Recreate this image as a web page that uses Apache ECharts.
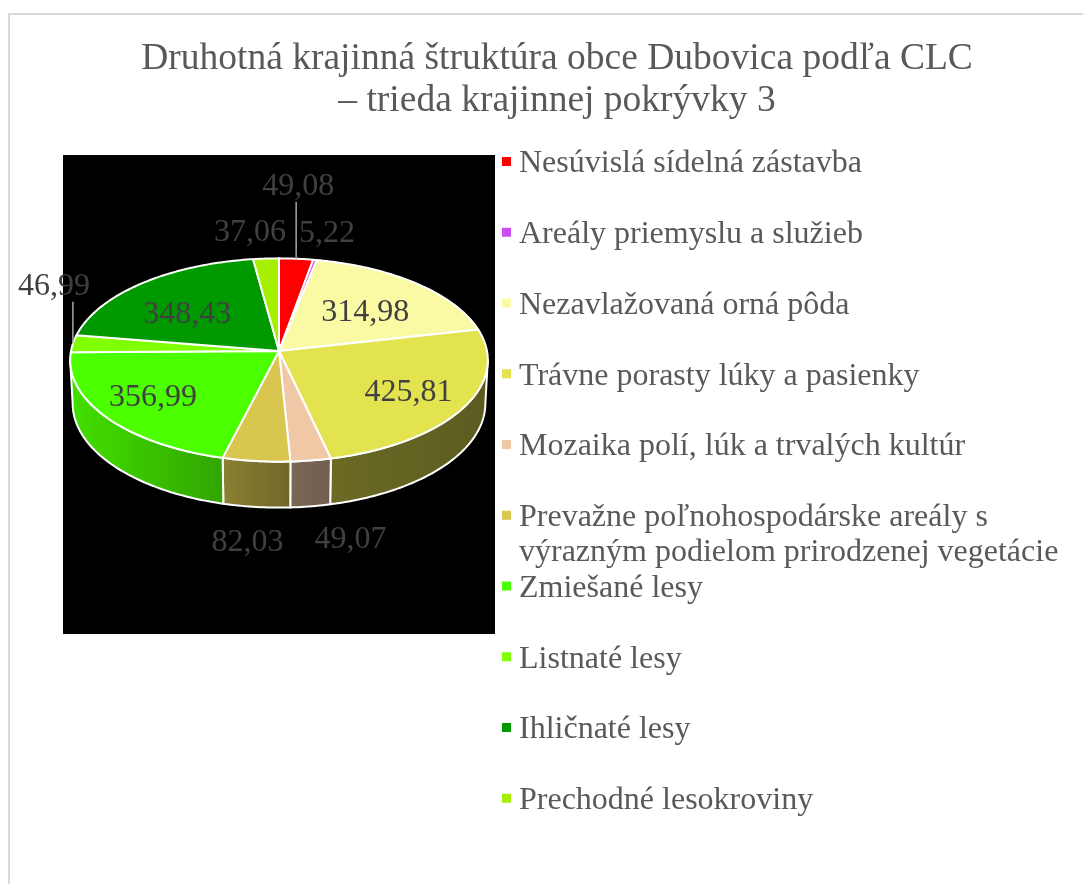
<!DOCTYPE html>
<html>
<head>
<meta charset="utf-8">
<script src="https://cdn.jsdelivr.net/npm/echarts@6/dist/echarts.min.js"></script>
<style>
  html, body { margin: 0; padding: 0; background: #ffffff; }
  #chart { width: 1083px; height: 884px; }
</style>
</head>
<body>
<div id="chart"></div>
<script>
// Land-cover classes (CLC level 3) and their areas
const categories = [
  'Nesúvislá sídelná zástavba',
  'Areály priemyslu a služieb',
  'Nezavlažovaná orná pôda',
  'Trávne porasty lúky a pasienky',
  'Mozaika polí, lúk a trvalých kultúr',
  'Prevažne poľnohospodárske areály s výrazným podielom prirodzenej vegetácie',
  'Zmiešané lesy',
  'Listnaté lesy',
  'Ihličnaté lesy',
  'Prechodné lesokroviny'
];
const values = [49.08, 5.22, 314.98, 425.81, 49.07, 82.03, 356.99, 46.99, 348.43, 37.06];
const colors = ['#FF0000', '#CC4CF0', '#FAFAA5', '#E3E34F', '#F0C8A6', '#D9C64F', '#4CFF00', '#80FF00', '#009A00', '#A5F000'];

// Label placement: 'in' = on the top face, 'edge' = above the rim, 'base' = below the front wall
const labelLayout = [
  { mode: 'edge', dx: 2, dy: -72, leader: true },
  { mode: 'edge', dx: 12, dy: -26 },
  { mode: 'in', r: 0.6, dx: 2, dy: 3 },
  { mode: 'in', r: 0.7, dx: 2, dy: 3 },
  { mode: 'base', dx: 40, dy: 33 },
  { mode: 'base', dx: -9, dy: 36 },
  { mode: 'in', r: 0.7, dx: -7, dy: 1 },
  { mode: 'edge', dx: -19, dy: -57, leader: true },
  { mode: 'in', r: 0.65, dx: -1, dy: 9 },
  { mode: 'edge', dx: -16, dy: -26 }
];

const FONT = '"Liberation Serif", "Times New Roman", serif';

// 3D pie geometry (perspective view of a tilted disc)
const CX = 279, CY = 351, R = 208, THICK = 50, DIST = 2053;
const TILT = 29 * Math.PI / 180;
const sinA = Math.sin(TILT), cosA = Math.cos(TILT);

function project(phiDeg, h, r) {
  const p = phiDeg * Math.PI / 180;
  const rr = (r === undefined) ? R : r;
  const X = rr * Math.sin(p), Z = rr * Math.cos(p);
  const up = Z * sinA + h * cosA;
  const depth = Z * cosA - h * sinA;
  const s = DIST / (DIST + depth);
  return [CX + X * s, CY - up * s];
}

// angle where the rim reaches its widest screen x (silhouette of the wall)
let PHI_S = 90, bestX = -1e9;
for (let a = 80; a <= 110; a += 0.1) {
  const x = project(a, -THICK / 2)[0];
  if (x > bestX) { bestX = x; PHI_S = a; }
}

const total = values.reduce((a, b) => a + b, 0);
const startAngles = [];
{
  let acc = 0;
  values.forEach(v => { startAngles.push(acc / total * 360); acc += v; });
}

function arc(a0, a1, h) {
  const pts = [];
  const n = Math.max(2, Math.ceil(Math.abs(a1 - a0) / 1));
  for (let i = 0; i <= n; i++) pts.push(project(a0 + (a1 - a0) * i / n, h));
  return pts;
}

// wall brightness as a function of rim angle (right side darker, left side lighter)
const shadeStops = [[90, 0.40], [150, 0.41], [175, 0.50], [195, 0.65], [270, 0.90]];
function shadeAt(phi) {
  if (phi <= shadeStops[0][0]) return shadeStops[0][1];
  for (let i = 1; i < shadeStops.length; i++) {
    if (phi <= shadeStops[i][0]) {
      const [p0, f0] = shadeStops[i - 1], [p1, f1] = shadeStops[i];
      return f0 + (f1 - f0) * (phi - p0) / (p1 - p0);
    }
  }
  return shadeStops[shadeStops.length - 1][1];
}
function scaleColor(hex, f) {
  const n = parseInt(hex.slice(1), 16);
  const r = Math.min(255, Math.round(((n >> 16) & 255) * f));
  const g = Math.min(255, Math.round(((n >> 8) & 255) * f));
  const b = Math.min(255, Math.round((n & 255) * f));
  return 'rgb(' + r + ',' + g + ',' + b + ')';
}

const valueLabels = values.map(v => v.toFixed(2).replace('.', ','));

function renderSlice(params, api) {
  const i = params.dataIndex;
  const v = api.value(0);
  const a0 = startAngles[i];
  const a1 = a0 + v / total * 360;
  const color = colors[i];
  const children = [];

  // front wall
  const w0 = Math.max(a0, PHI_S), w1 = Math.min(a1, 360 - PHI_S);
  if (w1 > w0) {
    const top = arc(w0, w1, 0);
    const bottom = arc(w1, w0, -THICK);
    children.push({
      type: 'polygon',
      z2: 1,
      shape: { points: top.concat(bottom) },
      style: {
        fill: {
          type: 'linear', x: 0, y: 0, x2: 1, y2: 0,
          colorStops: [
            { offset: 0, color: scaleColor(color, shadeAt(w1)) },
            { offset: 1, color: scaleColor(color, shadeAt(w0)) }
          ]
        },
        stroke: '#ffffff', lineWidth: 2, lineJoin: 'round'
      }
    });
  }

  // top face
  children.push({
    type: 'polygon',
    z2: 5,
    shape: { points: [project(0, 0, 0)].concat(arc(a0, a1, 0)) },
    style: { fill: color, stroke: '#ffffff', lineWidth: 2, lineJoin: 'round' }
  });

  // value label
  const lay = labelLayout[i];
  const mid = (a0 + a1) / 2;
  let lx, ly;
  if (lay.mode === 'in') {
    const p = project(mid, 0, R * lay.r);
    lx = p[0] + lay.dx; ly = p[1] + lay.dy;
  } else if (lay.mode === 'edge') {
    const p = project(mid, 0);
    lx = p[0] + lay.dx; ly = p[1] + lay.dy;
    if (lay.leader) {
      children.push({
        type: 'line', z2: 8,
        shape: { x1: p[0], y1: p[1], x2: p[0], y2: ly + 15 },
        style: { stroke: '#a6a6a6', lineWidth: 1.5 }
      });
    }
  } else {
    const p = project(mid, -THICK);
    lx = p[0] + lay.dx; ly = p[1] + lay.dy;
  }
  children.push({
    type: 'text', z2: 10, x: lx, y: ly,
    style: {
      text: valueLabels[i], fill: '#404040',
      font: '32px ' + FONT, align: 'center', verticalAlign: 'middle'
    }
  });

  return { type: 'group', children: children };
}

// word-wrap a legend name to a maximum pixel width
const measureCtx = document.createElement('canvas').getContext('2d');
function wrapText(text, font, maxWidth) {
  measureCtx.font = font;
  const words = text.split(' ');
  const lines = [];
  let line = '';
  words.forEach(w => {
    const trial = line ? line + ' ' + w : w;
    if (line && measureCtx.measureText(trial).width > maxWidth) {
      lines.push(line);
      line = w;
    } else {
      line = trial;
    }
  });
  if (line) lines.push(line);
  return lines.join('\n');
}

// legend drawn as a column of swatches and names
const LEG_X = 502, LEG_Y0 = 161.5, LEG_STEP = 70.75;
const LEG_FONT = '32px ' + FONT;
const legendElements = [];
categories.forEach((name, i) => {
  const y = LEG_Y0 + i * LEG_STEP;
  legendElements.push({
    type: 'rect', shape: { x: LEG_X, y: y - 4.5, width: 9, height: 9 },
    style: { fill: colors[i] }, z: 10
  });
  legendElements.push({
    type: 'text', x: 519, y: y - 15, z: 10,
    style: {
      text: wrapText(name, LEG_FONT, 548), fill: '#595959', font: LEG_FONT,
      align: 'left', verticalAlign: 'top', lineHeight: 35
    }
  });
});

const chart = echarts.init(document.getElementById('chart'), null, { renderer: 'canvas' });
chart.setOption({
  backgroundColor: '#ffffff',
  animation: false,
  title: {
    text: 'Druhotná krajinná štruktúra obce Dubovica podľa CLC\n– trieda krajinnej pokrývky 3',
    left: 552, top: 33, textAlign: 'center',
    textStyle: { fontFamily: FONT, fontSize: 37.5, fontWeight: 'normal', color: '#595959', lineHeight: 42 }
  },
  graphic: [
    {
      type: 'rect', z: -10,
      shape: { x: 9, y: 14, width: 1200, height: 1000 },
      style: { fill: '#ffffff', stroke: '#d9d9d9', lineWidth: 2 }
    },
    {
      type: 'rect', z: -5,
      shape: { x: 63, y: 155, width: 432, height: 479 },
      style: { fill: '#000000' }
    }
  ].concat(legendElements),
  series: [{
    type: 'custom',
    coordinateSystem: 'none',
    renderItem: renderSlice,
    data: values.map((v, i) => ({ name: categories[i], value: [v] }))
  }]
});
</script>
</body>
</html>
